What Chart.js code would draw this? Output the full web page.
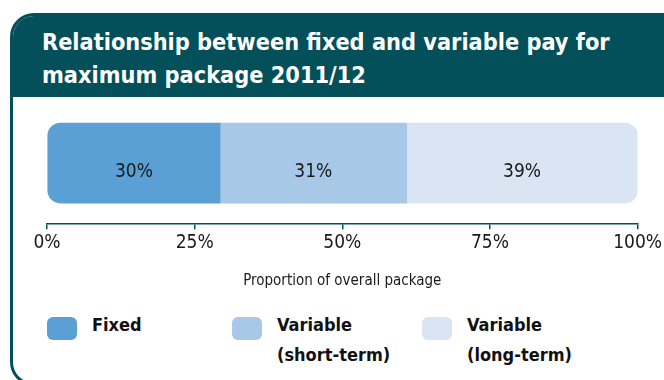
<!DOCTYPE html>
<html>
<head>
<meta charset="utf-8">
<script src="https://cdn.jsdelivr.net/npm/chart.js@4.4.0/dist/chart.umd.min.js"></script>
<style>
    body { margin: 0; width: 664px; height: 380px; overflow: hidden; background: #fff;
           font-family: "DejaVu Sans Condensed", "DejaVu Sans", sans-serif; }
    #card { position: absolute; left: 10px; top: 13px; width: 720px; height: 373px; box-sizing: border-box;
            border: 3px solid #03505b; border-radius: 24px; overflow: hidden; }
    #header { position: absolute; left: 0; top: 0; right: 0; height: 81px; background: #03505b; }
    #title { position: absolute; left: 42px; top: 25px; color: #fff; font-weight: bold;
             font-size: 23.3px; line-height: 33px; white-space: nowrap; }
    #chart-wrap { position: absolute; left: 0; top: 98px; width: 664px; height: 200px; }
    .legend-item { position: absolute; top: 317px; }
    .legend-box { position: absolute; left: 0; top: 0; width: 30px; height: 23px; border-radius: 6px; }
    .legend-text { position: absolute; left: 45px; top: -7px; font-weight: bold; font-size: 18px;
                   line-height: 30px; color: #111; white-space: nowrap; }
</style>
</head>
<body>
<div id="card"><div id="header"></div></div>
<div id="title">Relationship between fixed and variable pay for<br>maximum package 2011/12</div>
<div id="chart-wrap"><canvas id="pay-chart"></canvas></div>
<div id="legend"></div>

<script>
const categories = ["Maximum package 2011/12"];
const seriesNames = [["Fixed"], ["Variable", "(short-term)"], ["Variable", "(long-term)"]];
const fixedValues = [29.3];
const shortTermValues = [31.6];
const longTermValues = [39.1];
const barLabels = ["30%", "31%", "39%"];
const tickLabels = ["0%", "25%", "50%", "75%", "100%"];
const colors = ["#5aa0d4", "#a8c8e7", "#dae5f4"];

document.addEventListener("DOMContentLoaded", function () {
    // labels sit inside each segment
    const barLabelPlugin = {
        id: "barLabels",
        afterDatasetsDraw(chart) {
            const ctx = chart.ctx;
            ctx.save();
            ctx.font = "19px 'DejaVu Sans Condensed', 'DejaVu Sans', sans-serif";
            ctx.fillStyle = "#1a1a1a";
            ctx.textAlign = "center";
            ctx.textBaseline = "middle";
            chart.data.datasets.forEach((ds, i) => {
                const bar = chart.getDatasetMeta(i).data[0];
                const left = Math.min(bar.x, bar.base);
                const right = Math.max(bar.x, bar.base);
                ctx.fillText(barLabels[i], (left + right) / 2, bar.y + 9);
            });
            ctx.restore();
        }
    };

    const allValues = [fixedValues, shortTermValues, longTermValues];

    const datasets = allValues.map((vals, i) => {
        let radius = 0;
        if (i === 0) radius = { topLeft: 13, bottomLeft: 13, topRight: 0, bottomRight: 0 };
        if (i === allValues.length - 1) radius = { topLeft: 0, bottomLeft: 0, topRight: 13, bottomRight: 13 };
        return {
            label: seriesNames[i].join(" "),
            data: vals,
            backgroundColor: colors[i],
            borderWidth: 0,
            borderSkipped: false,
            borderRadius: radius,
            barThickness: 80
        };
    });

    new Chart(document.getElementById("pay-chart"), {
        type: "bar",
        data: { labels: categories, datasets: datasets },
        options: {
            indexAxis: "y",
            responsive: true,
            maintainAspectRatio: false,
            animation: false,
            layout: { padding: { left: 47, right: 26, top: 4, bottom: 8 } },
            plugins: {
                legend: { display: false },
                tooltip: { enabled: false }
            },
            scales: {
                y: { stacked: true, display: false },
                x: {
                    stacked: true,
                    min: 0,
                    max: 100,
                    afterBuildTicks: function (scale) {
                        scale.ticks = tickLabels.map((t, i) => ({ value: i * 25 }));
                    },
                    grid: { drawOnChartArea: false, drawTicks: true, tickLength: 5, tickColor: "#03505b", lineWidth: 1.5 },
                    border: { display: true, color: "#03505b", width: 1.5 },
                    ticks: {
                        padding: 2,
                        maxRotation: 0,
                        color: "#1a1a1a",
                        font: { family: "'DejaVu Sans Condensed', 'DejaVu Sans', sans-serif", size: 19 },
                        callback: function (value, index) { return tickLabels[index]; }
                    },
                    title: {
                        display: true,
                        text: "Proportion of overall package",
                        color: "#1a1a1a",
                        font: { family: "'DejaVu Sans Condensed', 'DejaVu Sans', sans-serif", size: 15 },
                        padding: { top: 16, bottom: 0 }
                    }
                }
            }
        },
        plugins: [barLabelPlugin]
    });

    // legend laid out like the original, three columns
    const legendX = [47, 232, 422];
    const legend = document.getElementById("legend");
    seriesNames.forEach((lines, i) => {
        const item = document.createElement("div");
        item.className = "legend-item";
        item.style.left = legendX[i] + "px";
        item.innerHTML = `<div class="legend-box" style="background:${colors[i]}"></div>
                          <div class="legend-text">${lines.join("<br>")}</div>`;
        legend.appendChild(item);
    });
});
</script>
</body>
</html>
